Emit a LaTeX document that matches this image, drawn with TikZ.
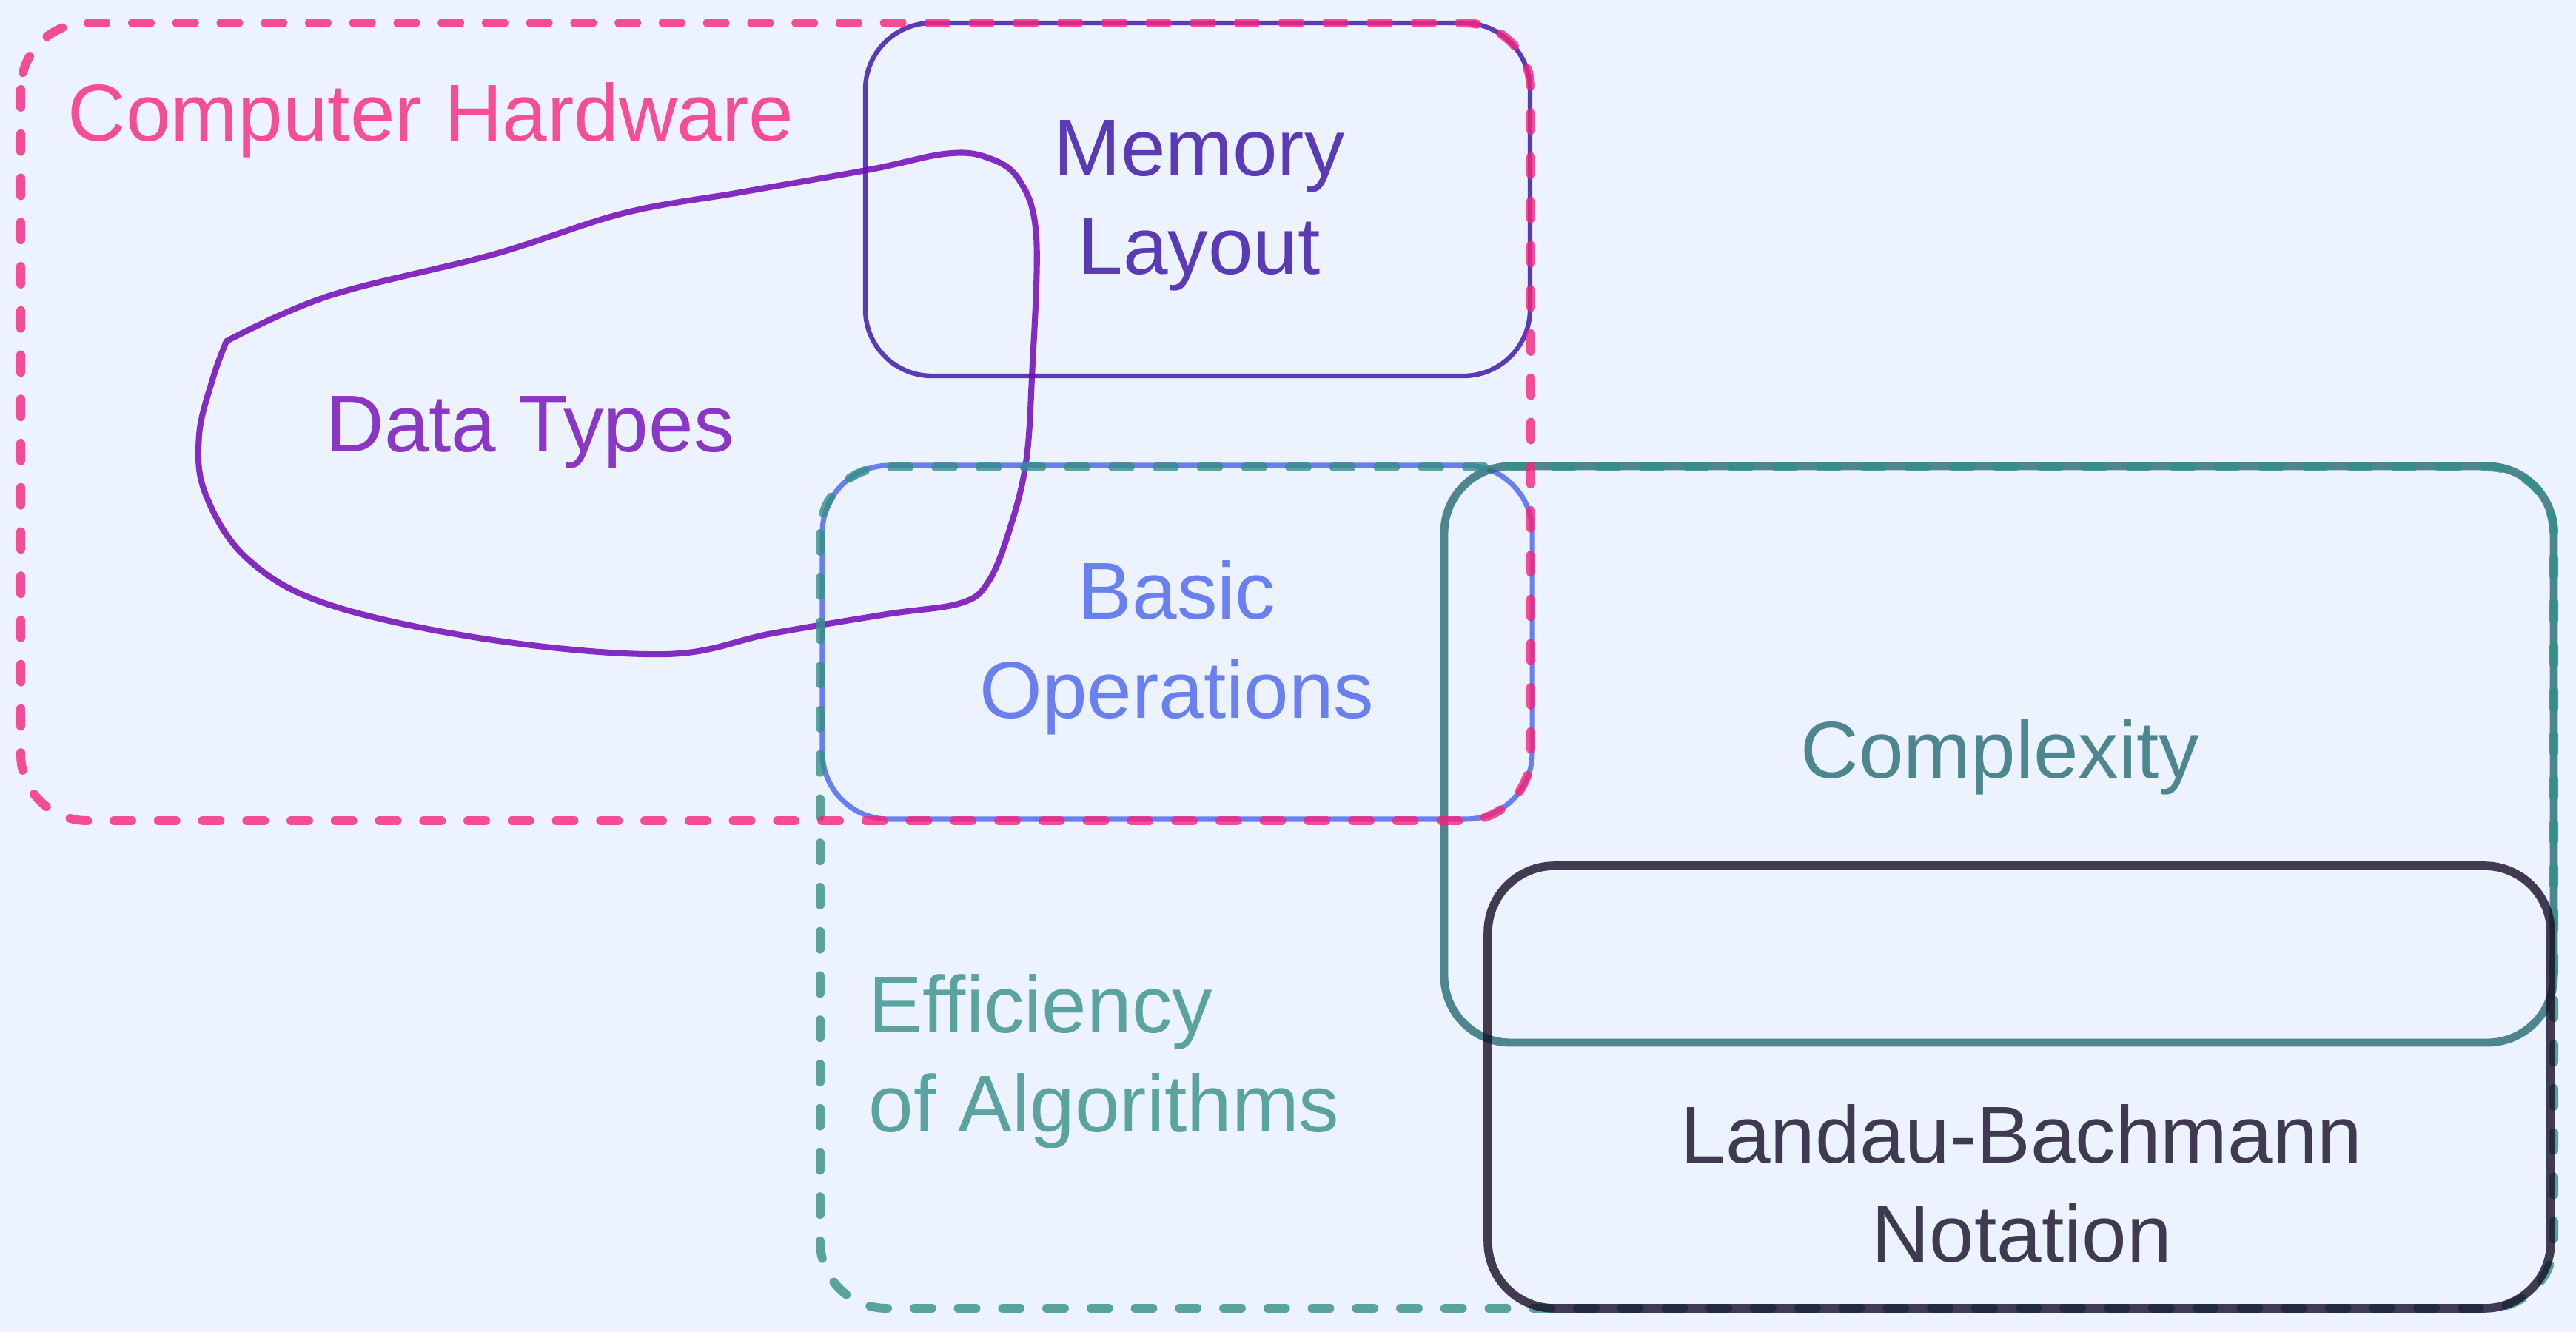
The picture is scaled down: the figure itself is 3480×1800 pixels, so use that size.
\documentclass[tikz,border=0pt]{standalone}
\usepackage{fontspec}
\setmainfont{Liberation Sans}
\definecolor{bgc}{HTML}{EDF3FE}
\definecolor{hwtext}{HTML}{F54D97}
\definecolor{memtext}{HTML}{5B3BB5}
\definecolor{dttext}{HTML}{8B37C6}
\definecolor{bstext}{HTML}{6B80F0}
\definecolor{cxtext}{HTML}{4D868E}
\definecolor{efftext}{HTML}{5AA3A0}
\definecolor{lbtext}{HTML}{3F3A52}
\definecolor{hwline}{HTML}{F7237D}
\definecolor{memline}{HTML}{360DA3}
\definecolor{dtline}{HTML}{7208B8}
\definecolor{bsline}{HTML}{4A63EC}
\definecolor{cxline}{HTML}{256B72}
\definecolor{effline}{HTML}{358F87}
\definecolor{lbline}{HTML}{150C27}
\begin{document}
\begin{tikzpicture}[x=0.1mm,y=-0.1mm,
  box/.style={draw opacity=0.8, rounded corners=9mm, line cap=round, line join=round},
  dashbox/.style={box, line width=3.4pt, dash pattern=on 6.8pt off 10.2pt},
  lbl/.style={inner sep=0pt, font=\fontsize{31pt}{38pt}\selectfont}]
\fill[bgc] (0,0) rectangle (3480,1800);
\useasboundingbox (0,0) rectangle (3480,1800);
% Memory Layout
\draw[box, memline, line width=1.8pt] (1169,31) rectangle (2067,508);
% Data Types blob
\draw[dtline, line width=2.3pt, draw opacity=0.85, line cap=round, line join=round]
  plot[smooth, tension=0.6] coordinates {(306,461) (444,400) (666,344) (843,288) (1000,260) (1176,229) (1276,208) (1331,212) (1376,242) (1400,320) (1394,510) (1386,625) (1365,712) (1336,785) (1298,815) (1198,830) (1043,856) (900,884) (666,865) (444,817) (333,754) (277,666) (269,588) (288,510) (306,461)};
% Basic Operations
\draw[box, bsline, line width=2pt] (1111,629) rectangle (2070,1107);
% Complexity
\draw[box, cxline, line width=3.1pt] (1951,630) rectangle (3450,1409);
% Efficiency of Algorithms
\draw[dashbox, effline] (1108,631) rectangle (3450,1768);
% Landau-Bachmann Notation
\draw[box, lbline, line width=3.3pt] (2010,1170) rectangle (3446,1768);
% Computer Hardware
\draw[dashbox, hwline] (28,31) rectangle (2068,1109);
% labels (base anchor = baseline of the last line)
\node[lbl, hwtext, anchor=base west] (hw) at (91,191) {Computer Hardware};
\node[lbl, memtext, anchor=base, align=center] (mem) at (1620,371) {Memory\\Layout};
\node[lbl, dttext, anchor=base] (dt) at (716,611) {Data Types};
\node[lbl, bstext, anchor=base, align=center] (bs) at (1590,970) {Basic\\Operations};
\node[lbl, cxtext, anchor=base] (cx) at (2702,1051) {Complexity};
\node[lbl, efftext, anchor=base west, align=left] (eff) at (1173,1529) {Efficiency\\of Algorithms};
\node[lbl, lbtext, anchor=base, align=center] (lb) at (2731,1705) {Landau-Bachmann\\Notation};
\end{tikzpicture}
\end{document}
